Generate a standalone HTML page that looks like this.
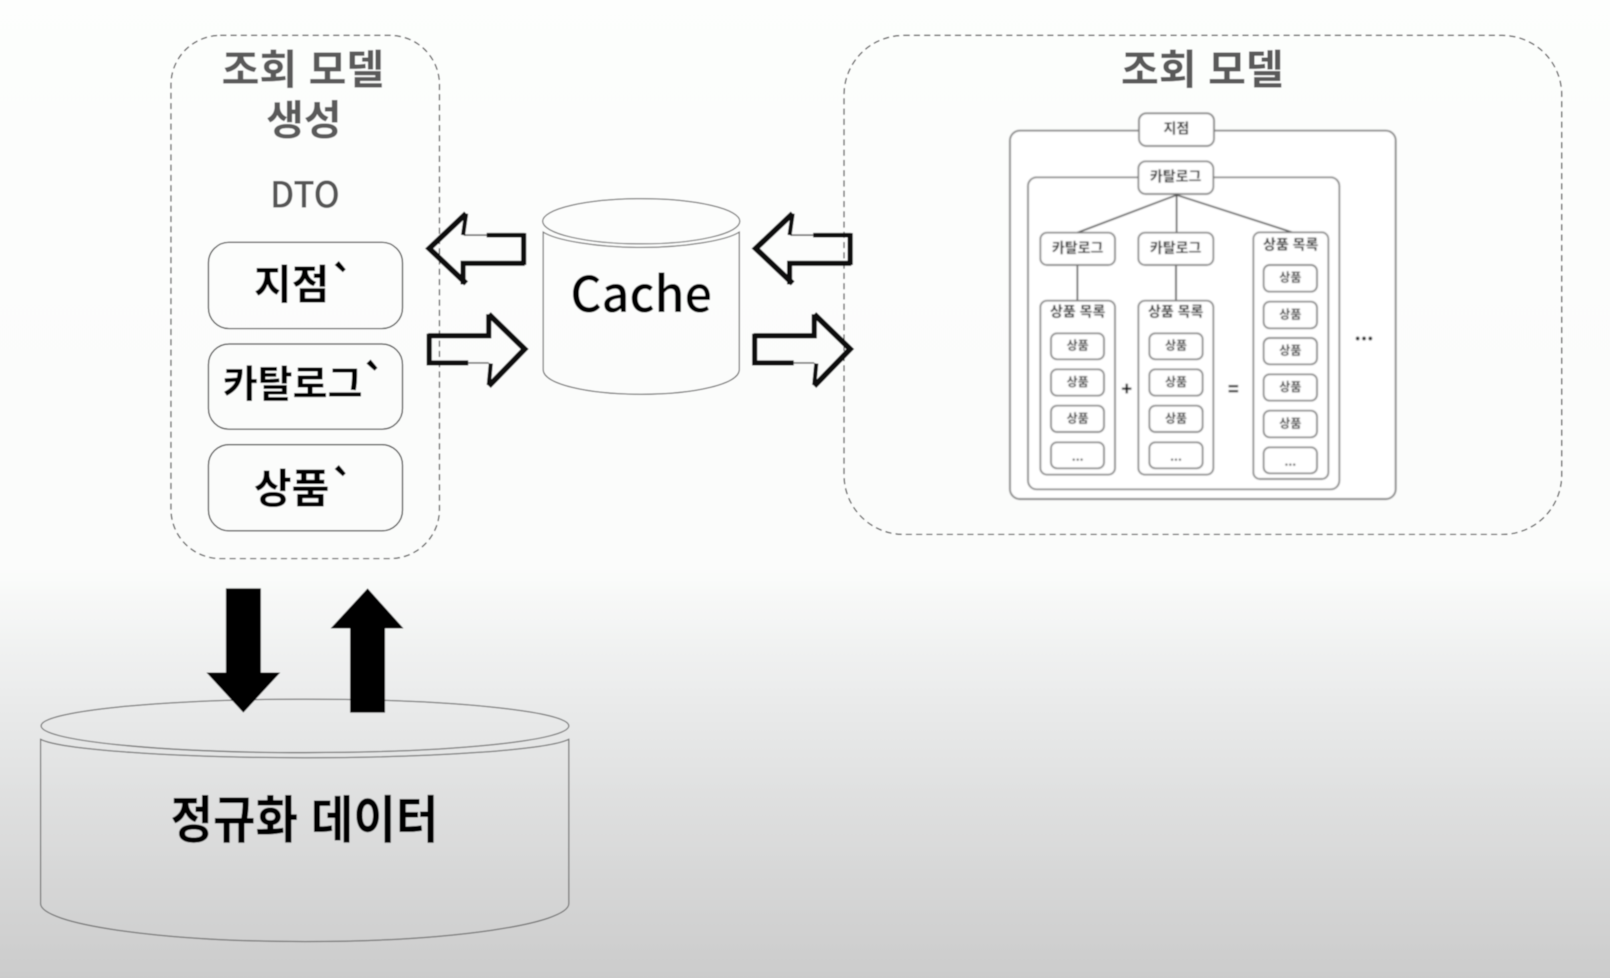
<!DOCTYPE html>
<html lang="ko">
<head>
<meta charset="utf-8">
<title>조회 모델</title>
<style>
html,body{margin:0;padding:0;width:1610px;height:978px;overflow:hidden;background:#fdfefd}
svg{display:block}
text{font-family:"Liberation Sans","Noto Sans CJK KR",sans-serif}
.k{font-family:"Noto Sans CJK KR","Liberation Sans",sans-serif;font-weight:500;text-anchor:middle}
.h{font-family:"Noto Sans CJK KR","Liberation Sans",sans-serif;font-weight:700;text-anchor:middle}
.b{fill:#fff;stroke:#777;stroke-width:5}
.i{fill:#fff;stroke:#777;stroke-width:5}
.l{font-size:42px;fill:#222;font-family:"Noto Sans CJK KR",sans-serif;font-weight:700;text-anchor:middle}
.s{font-size:36px;fill:#333;font-family:"Noto Sans CJK KR",sans-serif;font-weight:700;text-anchor:middle}
.ln{stroke:#444;stroke-width:5;fill:none}
</style>
</head>
<body>
<svg xmlns="http://www.w3.org/2000/svg" width="1610" height="978" viewBox="0 0 1568 952.5">
<defs>
<linearGradient id="bg" x1="0" y1="0" x2="0" y2="1">
<stop offset="0" stop-color="#fdfefd"/>
<stop offset=".58" stop-color="#fbfcfb"/>
<stop offset=".72" stop-color="#e9eaea"/>
<stop offset="1" stop-color="#cbcbcb"/>
</linearGradient>
<filter id="soft" x="-5%" y="-5%" width="110%" height="110%"><feGaussianBlur stdDeviation="1.2"/></filter>
<filter id="soft2" x="0" y="0" width="100%" height="100%"><feGaussianBlur stdDeviation="0.45"/></filter>
<g id="la" fill="none" stroke="#111" stroke-linejoin="miter">
<path d="M452,229H511" stroke="#777" stroke-width="1.6"/>
<path d="M474,229H511" stroke-width="4.5"/>
<path d="M510,227V258" stroke-width="5"/>
<path d="M511,256.500H451V277" stroke-width="5"/>
<path d="M454,208L418,242L454,276" stroke-width="5.500"/>
<path d="M454,208L451,229" stroke-width="4"/>
</g>
<g id="ra" fill="none" stroke="#111" stroke-linejoin="miter">
<path d="M417,353.500H476" stroke="#777" stroke-width="1.6"/>
<path d="M417,327H476L476,306" stroke-width="5"/>
<path d="M418,325V356M417,353.500H456" stroke-width="5"/>
<path d="M476,306L511,340L476,376" stroke-width="5.500"/>
<path d="M476,375L478,354" stroke-width="4"/>
</g>
</defs>

<g filter="url(#soft2)">
<rect x="-5" y="-5" width="1578" height="963" fill="url(#bg)"/>

<!-- left dashed panel -->
<rect x="166.5" y="34.5" width="261.5" height="509.5" rx="48" ry="48" fill="none" stroke="#444" stroke-width="1.2" stroke-dasharray="6 4"/>
<text class="h" x="295" y="82" font-size="40" fill="#5a5a5a">조회 모델</text>
<text class="h" x="296" y="131" font-size="40" fill="#5a5a5a">생성</text>
<text x="297" y="202" font-size="35" text-anchor="middle" fill="#555" font-weight="500" style="font-family:'Noto Sans CJK KR',sans-serif" textLength="68" lengthAdjust="spacingAndGlyphs">DTO</text>

<rect x="203" y="236" width="189" height="84" rx="20" fill="none" stroke="#333" stroke-width="1.2"/>
<rect x="203" y="335" width="189" height="83" rx="20" fill="none" stroke="#333" stroke-width="1.2"/>
<rect x="203" y="433" width="189" height="84" rx="20" fill="none" stroke="#333" stroke-width="1.2"/>
<text class="h" x="284" y="291" font-size="40" fill="#000">지점</text>
<text class="h" x="334" y="291" font-size="40" fill="#000">`</text>
<text class="h" x="285" y="387" font-size="37" fill="#000">카탈로그</text>
<text class="h" x="365" y="387" font-size="40" fill="#000">`</text>
<text class="h" x="284" y="490" font-size="40" fill="#000">상품</text>
<text class="h" x="334" y="490" font-size="40" fill="#000">`</text>

<!-- right dashed panel -->
<rect x="822" y="34.5" width="699" height="486" rx="58" ry="58" fill="none" stroke="#444" stroke-width="1.2" stroke-dasharray="6 4"/>
<text class="h" x="1171" y="82" font-size="40" fill="#5a5a5a">조회 모델</text>

<!-- cache cylinder -->
<path d="M529,226V360C529,374 572,384 624.5,384C677,384 720,374 720,360V226C708,234 668,241 624.5,241C581,241 541,234 529,226Z" fill="none" stroke="#666" stroke-width="1.1"/>
<ellipse cx="624.5" cy="215.5" rx="96" ry="22" fill="none" stroke="#666" stroke-width="1.1"/>
<text class="h" x="624.5" y="304" font-size="48" fill="#000" textLength="138" lengthAdjust="spacingAndGlyphs" style="font-weight:500">Cache</text>

<!-- sketchy arrows -->
<use href="#la"/>
<use href="#ra"/>
<use href="#la" transform="translate(318,0)"/>
<use href="#ra" transform="translate(317,0)"/>

<!-- bottom cylinder -->
<path d="M39.5,720V880C39.5,900 155,917 297,917C439,917 554,900 554,880V720C535,730 425,738 297,738C169,738 58,730 39.5,720Z" fill="none" stroke="#666" stroke-width="1.1"/>
<ellipse cx="297" cy="707" rx="257" ry="26" fill="none" stroke="#666" stroke-width="1.1"/>
<text class="h" x="296.5" y="816" font-size="50" fill="#000" textLength="261" lengthAdjust="spacingAndGlyphs">정규화 데이터</text>

<!-- black arrows -->
<polygon points="220,573 254,573 254,655 273,655 237,694 201,655 220,655" fill="#000"/>
<polygon points="358,573 393,612 375,612 375,694 341,694 341,612 322,612" fill="#000"/>

<!-- inner diagram -->
<g transform="scale(0.97392) translate(1000,100) scale(0.33333)" filter="url(#soft)">
<rect class="b" x="30" y="92" width="1157" height="1105" rx="30"/>
<rect class="b" x="84" y="232" width="934" height="936" rx="26"/>

<rect class="b" x="417" y="40" width="225" height="98" rx="22"/>
<text class="l" x="529" y="101">지점</text>
<rect class="b" x="415" y="184" width="225" height="98" rx="22"/>
<text class="l" x="527" y="245">카탈로그</text>

<path class="ln" d="M530,285L232,398M530,285V398M530,285L880,398M232,495V602M528,495V602"/>

<rect class="b" x="121" y="398" width="224" height="97" rx="20"/>
<text class="l" x="233" y="459">카탈로그</text>
<rect class="b" x="415" y="398" width="225" height="97" rx="20"/>
<text class="l" x="527" y="459">카탈로그</text>

<rect class="b" x="121" y="602" width="224" height="522" rx="20"/>
<text class="l" x="233" y="650">상품 목록</text>
<rect class="b" x="415" y="602" width="225" height="522" rx="20"/>
<text class="l" x="527" y="650">상품 목록</text>
<rect class="b" x="760" y="397" width="225" height="740" rx="20"/>
<text class="l" x="872" y="448">상품 목록</text>

<rect class="i" x="153" y="700" width="159" height="78" rx="18"/><text class="s" x="233" y="749">상품</text>
<rect class="i" x="153" y="808" width="159" height="79" rx="18"/><text class="s" x="233" y="858">상품</text>
<rect class="i" x="153" y="917" width="159" height="79" rx="18"/><text class="s" x="233" y="967">상품</text>
<rect class="i" x="153" y="1027" width="159" height="78" rx="18"/><text class="s" x="233" y="1082">...</text>

<rect class="i" x="448" y="700" width="160" height="78" rx="18"/><text class="s" x="528" y="749">상품</text>
<rect class="i" x="448" y="808" width="160" height="79" rx="18"/><text class="s" x="528" y="858">상품</text>
<rect class="i" x="448" y="917" width="160" height="79" rx="18"/><text class="s" x="528" y="967">상품</text>
<rect class="i" x="448" y="1027" width="160" height="78" rx="18"/><text class="s" x="528" y="1082">...</text>

<rect class="i" x="791" y="495" width="160" height="80" rx="18"/><text class="s" x="871" y="545">상품</text>
<rect class="i" x="791" y="605" width="160" height="80" rx="18"/><text class="s" x="871" y="655">상품</text>
<rect class="i" x="791" y="714" width="160" height="79" rx="18"/><text class="s" x="871" y="764">상품</text>
<rect class="i" x="791" y="823" width="160" height="79" rx="18"/><text class="s" x="871" y="873">상품</text>
<rect class="i" x="791" y="932" width="160" height="80" rx="18"/><text class="s" x="871" y="982">상품</text>
<rect class="i" x="791" y="1042" width="160" height="78" rx="18"/><text class="s" x="871" y="1097">...</text>

<text class="l" x="380" y="886" style="font-weight:900;font-size:54px;fill:#111">+</text>
<text class="l" x="700" y="886" style="font-weight:900;font-size:54px;fill:#111">=</text>
<text class="l" x="1092" y="720" style="font-weight:900;font-size:54px;fill:#111">...</text>
</g>
</g>
</svg>
</body>
</html>
